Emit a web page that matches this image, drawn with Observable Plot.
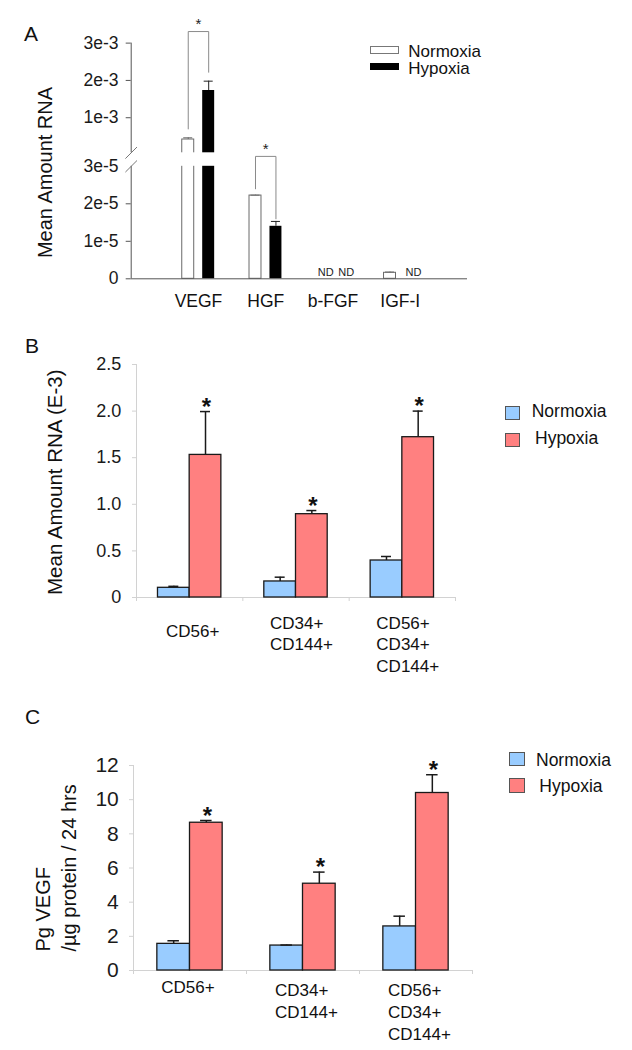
<!DOCTYPE html>
<html><head><meta charset="utf-8">
<script src="https://cdn.jsdelivr.net/npm/d3@7"></script>
<script src="https://cdn.jsdelivr.net/npm/@observablehq/plot@0.6"></script>
<style>
body{margin:0;background:#fff;font-family:"Liberation Sans",Arial,Helvetica,sans-serif;}
#page{position:relative;width:632px;height:1050px;overflow:hidden;background:#fff;}
.panel{position:absolute;left:0;}
.lbl{position:absolute;line-height:1;white-space:nowrap;color:#111;}
.sw{position:absolute;box-sizing:border-box;}
</style></head><body><div id="page"></div>
<script>
// ---------- Panel A data ----------
const aCategories = ["VEGF", "HGF", "b-FGF", "IGF-I"];
const aNormoxia = [4.16e-4, 2.22e-5, null, 1.6e-6];
const aNormoxiaErr = [0.46e-4, 0.01e-5, null, 0.2e-6];
const aHypoxia = [1.73e-3, 1.40e-5, null, null];
const aHypoxiaErr = [0.25e-3, 0.13e-5, null, null];
const aTicks = [0, 1e-5, 2e-5, 3e-5, 1e-3, 2e-3, 3e-3];
const aTickLabels = ["0", "1e-5", "2e-5", "3e-5", "1e-3", "2e-3", "3e-3"];
const aBreak = [3e-5, 6e-5];
const aSigCategories = ["VEGF", "HGF"];
const aSigTop = [3.31e-3, 5.2e-5];
const aSigLeft = [7.0e-4, 2.4e-5];
const aSigRight = [2.22e-3, 1.6e-5];

// ---------- Panel B data ----------
const bCategories = ["CD56+", "CD34+\nCD144+", "CD56+\nCD34+\nCD144+"];
const bNormoxia = [0.104, 0.172, 0.397];
const bNormoxiaErr = [0.016, 0.046, 0.043];
const bHypoxia = [1.53, 0.894, 1.72];
const bHypoxiaErr = [0.465, 0.039, 0.28];
const bTicks = [0, 0.5, 1.0, 1.5, 2.0, 2.5];
const bTickLabels = ["0", "0.5", "1.0", "1.5", "2.0", "2.5"];

// ---------- Panel C data ----------
const cCategories = ["CD56+", "CD34+\nCD144+", "CD56+\nCD34+\nCD144+"];
const cNormoxia = [1.56, 1.46, 2.58];
const cNormoxiaErr = [0.18, 0.03, 0.6];
const cHypoxia = [8.65, 5.08, 10.39];
const cHypoxiaErr = [0.13, 0.68, 1.07];
const cTicks = [0, 2, 4, 6, 8, 10, 12];
const cTickLabels = ["0", "2", "4", "6", "8", "10", "12"];

const seriesNames = ["Normoxia", "Hypoxia"];
const FONT = '"Liberation Sans", Arial, Helvetica, sans-serif';
const BLUE = "#99CCFF", RED = "#FF8080";

const page = document.getElementById("page");
function place(node, top) {
  const d = document.createElement("div");
  d.className = "panel"; d.style.top = top + "px";
  d.appendChild(node); page.appendChild(d);
}
function label(text, left, centerY, size) {
  const d = document.createElement("div");
  d.className = "lbl"; d.textContent = text;
  d.style.left = left + "px"; d.style.top = (centerY - size * 0.5) + "px";
  d.style.fontSize = size + "px";
  page.appendChild(d);
}
function swatch(left, top, w, h, fill, border) {
  const d = document.createElement("div");
  d.className = "sw";
  Object.assign(d.style, {left: left + "px", top: top + "px", width: w + "px", height: h + "px", background: fill, border: "1px solid " + border});
  page.appendChild(d);
}
const style = {fontFamily: FONT, background: "transparent", color: "#111", overflow: "visible"};

// ================= Panel A =================
{
  const rows = [];
  aCategories.forEach((c, k) => {
    rows.push({cat: c, pos: k + 1, side: -1, series: seriesNames[0], value: aNormoxia[k], err: aNormoxiaErr[k]});
    rows.push({cat: c, pos: k + 1, side: 1, series: seriesNames[1], value: aHypoxia[k], err: aHypoxiaErr[k]});
  });
  const shift = 0.152, half = 0.089, cap = 0.067;
  const cx = d => d.pos + d.side * shift;
  const bars = rows.filter(d => d.value != null);
  const nd = rows.filter(d => d.value == null);
  const nBars = bars.filter(d => d.series === "Normoxia");
  const hBars = bars.filter(d => d.series === "Hypoxia");
  const broken = aCategories.map((c, k) => ({pos: k + 1, top: Math.max(aNormoxia[k] ?? 0, aHypoxia[k] ?? 0)}))
    .filter(d => d.top > aBreak[1]);
  const sig = aSigCategories.map((c, k) => ({pos: aCategories.indexOf(c) + 1, top: aSigTop[k], left: aSigLeft[k], right: aSigRight[k]}));
  const sigPath = sig.flatMap((d, k) => [
    {k, x: d.pos - shift, y: d.left}, {k, x: d.pos - shift, y: d.top},
    {k, x: d.pos + shift, y: d.top}, {k, x: d.pos + shift, y: d.right}]);
  const slash = {draw(ctx, size) { const r = Math.sqrt(size / Math.PI); ctx.moveTo(-r, r); ctx.lineTo(r, -r); }};
  const errMarks = (data, color) => [
    Plot.ruleX(data, {x: cx, y1: "value", y2: d => d.value + d.err, stroke: color, strokeWidth: 1}),
    Plot.ruleY(data, {y: d => d.value + d.err, x1: d => cx(d) - cap, x2: d => cx(d) + cap, stroke: color, strokeWidth: 1})
  ];
  const plotA = Plot.plot({
    width: 632, height: 305,
    marginLeft: 130.7, marginRight: 165, marginTop: 16.5, marginBottom: 26.7,
    style: {...style, fontSize: "17.5px"},
    x: {domain: [0, 5]},
    y: {type: "linear", domain: [0, aBreak[0], aBreak[1], 3.7e-3], range: [278.3, 165.8, 152.3, 16.5]},
    marks: [
      Plot.rect(nBars, {x1: d => cx(d) - half, x2: d => cx(d) + half, y1: 0, y2: "value", fill: "#fff", stroke: "#6a6a6a", strokeWidth: 1}),
      Plot.rect(hBars, {x1: d => cx(d) - half, x2: d => cx(d) + half, y1: 0, y2: "value", fill: "#000"}),
      ...errMarks(nBars, "#6a6a6a"),
      ...errMarks(hBars, "#222"),
      Plot.rect(broken, {x1: d => d.pos - 0.3, x2: d => d.pos + 0.3, y1: aBreak[0], y2: aBreak[1], fill: "#fff"}),
      Plot.ruleY([0], {stroke: "#555", strokeWidth: 1}),
      Plot.ruleX([[0, aBreak[0]], [aBreak[1], aTicks[aTicks.length - 1]]], {x: 0, y1: d => d[0], y2: d => d[1], stroke: "#555", strokeWidth: 1}),
      Plot.dot(aBreak, {x: 0, y: d => d, symbol: slash, r: 5.8, stroke: "#777", fill: "none", strokeWidth: 1}),
      Plot.axisY({ticks: aTicks.filter(t => !aBreak.includes(t)), tickSize: 5, tickFormat: () => "", color: "#555", label: null}),
      Plot.axisY({ticks: aTicks, tickSize: 0, tickPadding: 12.7, tickFormat: d => aTickLabels[aTicks.indexOf(d)], fontSize: 17.5, color: "#1a1a1a", label: null}),
      Plot.axisX({ticks: aCategories.map((c, k) => k + 1), tickFormat: t => aCategories[t - 1], tickSize: 0, tickPadding: 16, fontSize: 17.5, color: "#111", label: null}),
      Plot.text(nd, {x: cx, y: 0, text: () => "ND", dx: 3, dy: -6.6, fontSize: 11, fill: "#222"}),
      Plot.line(sigPath, {x: "x", y: "y", z: "k", stroke: "#8a8a8a", strokeWidth: 1}),
      Plot.text(sig, {x: "pos", y: "top", text: () => "*", dy: -7, fontSize: 15, fill: "#222"}),
      Plot.text(["Mean Amount RNA"], {frameAnchor: "left", rotate: -90, textAnchor: "middle", lineAnchor: "middle", dx: -85.7, dy: 24.6, fontSize: 20, fill: "#111"})
    ]
  });
  place(plotA, 0);
  label("A", 24, 33, 21);
  swatch(370, 46, 29, 7.5, "#fff", "#777");
  swatch(370, 62.5, 29, 7.5, "#000", "#000");
  label("Normoxia", 408.3, 51, 17);
  label("Hypoxia", 408.3, 68.5, 17);
}

// ============ helper for panels B & C ============
function groupedPanel(o) {
  const rows = [];
  o.categories.forEach((c, k) => {
    rows.push({pos: k + 0.5, side: -1, series: "Normoxia", value: o.normoxia[k], err: o.normoxiaErr[k]});
    rows.push({pos: k + 0.5, side: 1, series: "Hypoxia", value: o.hypoxia[k], err: o.hypoxiaErr[k]});
  });
  const w = o.barWidth;
  const cx = d => d.pos + d.side * w / 2;
  const n = rows.filter(d => d.series === "Normoxia");
  const h = rows.filter(d => d.series === "Hypoxia");
  const labels = o.categories.map((c, k) => ({pos: k + 0.5, text: c}));
  const single = labels.filter(d => !d.text.includes("\n"));
  const multi = labels.filter(d => d.text.includes("\n"));
  const top = o.ticks[o.ticks.length - 1];
  const axisGray = "#d2d2d2";
  return Plot.plot({
    width: 632, height: o.height,
    marginLeft: o.ml, marginRight: o.mr, marginTop: o.mt, marginBottom: o.mb,
    style: {...style, fontSize: "17px"},
    x: {domain: [0, o.categories.length]},
    y: {domain: [0, top]},
    marks: [
      Plot.ruleY([0], {stroke: axisGray}),
      Plot.ruleX([0], {y1: 0, y2: top, stroke: axisGray}),
      Plot.axisY({ticks: o.ticks, tickSize: 4, tickFormat: () => "", color: axisGray, label: null}),
      Plot.axisY({ticks: o.ticks, tickSize: 0, tickPadding: o.tickPad, tickFormat: d => o.tickLabels[o.ticks.indexOf(d)], fontSize: o.tickFont, color: "#1a1a1a", label: null}),
      Plot.axisX({ticks: d3.range(o.categories.length + 1), tickSize: 4, tickFormat: () => "", color: axisGray, label: null}),
      Plot.rect(n, {x1: d => d.pos - w, x2: "pos", y1: 0, y2: "value", fill: BLUE, stroke: "#1a1a1a", strokeWidth: 1.3}),
      Plot.rect(h, {x1: "pos", x2: d => d.pos + w, y1: 0, y2: "value", fill: RED, stroke: "#1a1a1a", strokeWidth: 1.3}),
      Plot.ruleX(rows, {x: cx, y1: "value", y2: d => d.value + d.err, stroke: "#1a1a1a", strokeWidth: 1.5}),
      Plot.ruleY(rows, {y: d => d.value + d.err, x1: d => cx(d) - o.cap, x2: d => cx(d) + o.cap, stroke: "#1a1a1a", strokeWidth: 1.5}),
      Plot.text(h, {x: cx, y: d => d.value + d.err, text: () => "*", dy: -4.5, dx: 1, fontSize: 24, fontWeight: "bold", fill: "#111"}),
      Plot.text(single, {x: "pos", y: 0, text: "text", lineAnchor: "top", dy: o.singleDy, dx: o.singleDx, fontSize: 17, fill: "#111"}),
      Plot.text(multi, {x: "pos", y: 0, text: "text", lineAnchor: "top", textAnchor: "start", dy: o.multiDy, dx: o.multiDx, lineHeight: 1.27, fontSize: 17, fill: "#111"}),
      o.title
    ]
  });
}

// ================= Panel B =================
{
  const plotB = groupedPanel({
    categories: bCategories, normoxia: bNormoxia, normoxiaErr: bNormoxiaErr, hypoxia: bHypoxia, hypoxiaErr: bHypoxiaErr,
    ticks: bTicks, tickLabels: bTickLabels, height: 370, ml: 136, mr: 177, mt: 59, mb: 78,
    barWidth: 0.298, cap: 0.047, tickPad: 15.3, tickFont: 18,
    singleDy: 27, singleDx: 3, multiDy: 16, multiDx: -26,
    title: Plot.text(["Mean Amount RNA (E-3)"], {frameAnchor: "left", rotate: -90, textAnchor: "middle", lineAnchor: "middle", dx: -81, dy: 1.2, fontSize: 20.5, fill: "#111"})
  });
  place(plotB, 305);
  label("B", 25, 345, 21);
  swatch(505, 406, 15, 14, BLUE, "#555");
  swatch(505, 433, 15, 14, RED, "#555");
  label("Normoxia", 531.7, 411.5, 17.5);
  label("Hypoxia", 535, 438.8, 17.5);
}

// ================= Panel C =================
{
  const plotC = groupedPanel({
    categories: cCategories, normoxia: cNormoxia, normoxiaErr: cNormoxiaErr, hypoxia: cHypoxia, hypoxiaErr: cHypoxiaErr,
    ticks: cTicks, tickLabels: cTickLabels, height: 375, ml: 133, mr: 160, mt: 90, mb: 80,
    barWidth: 0.289, cap: 0.051, tickPad: 14.7, tickFont: 21,
    singleDy: 10.5, singleDx: -2, multiDy: 10.5, multiDx: -28,
    title: Plot.text(["Pg VEGF\n/µg protein / 24 hrs"], {frameAnchor: "bottom-left", rotate: -90, textAnchor: "start", lineAnchor: "middle", dx: -79.3, dy: -19, lineHeight: 1.3, fontSize: 20, fill: "#111"})
  });
  place(plotC, 675);
  label("C", 25, 716.7, 21);
  swatch(509.3, 751.7, 15.5, 14.5, BLUE, "#555");
  swatch(509.3, 778.3, 15.5, 14.5, RED, "#555");
  label("Normoxia", 536, 760.5, 17.5);
  label("Hypoxia", 539.3, 787, 17.5);
}
</script></body></html>
